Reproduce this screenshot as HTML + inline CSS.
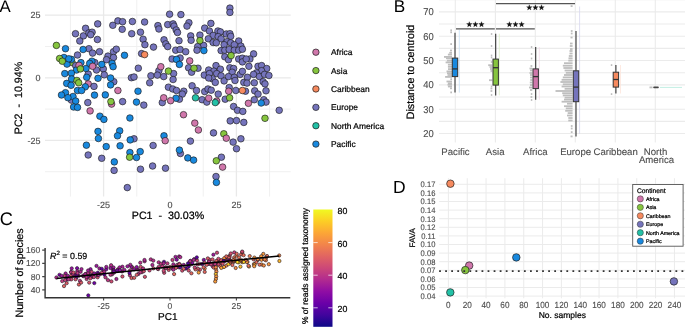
<!DOCTYPE html>
<html><head><meta charset="utf-8"><style>
html,body{margin:0;padding:0;background:#fff;width:685px;height:328px;overflow:hidden;}
svg{display:block;will-change:transform;}
text{font-family:"Liberation Sans",sans-serif;text-rendering:geometricPrecision;}
</style></head><body>
<svg width="685" height="328" viewBox="0 0 685 328">
<path d="M45 46.50H290.7M45 109.10H290.7M45 171.70H290.7M70.40 0V196.6M136.80 0V196.6M203.20 0V196.6M269.60 0V196.6" stroke="#f0f0f0" stroke-width="1" fill="none"/>
<path d="M45 15.20H290.7M45 77.80H290.7M45 140.40H290.7M103.60 0V196.6M170.00 0V196.6M236.40 0V196.6" stroke="#e9e9e9" stroke-width="1.3" fill="none"/>
<text x="40.60" y="18.40" font-size="9" text-anchor="end" fill="#4d4d4d"  stroke="#4d4d4d" stroke-width="0.12">25</text>
<text x="40.60" y="81.00" font-size="9" text-anchor="end" fill="#4d4d4d"  stroke="#4d4d4d" stroke-width="0.12">0</text>
<text x="40.60" y="143.60" font-size="9" text-anchor="end" fill="#4d4d4d"  stroke="#4d4d4d" stroke-width="0.12">-25</text>
<text x="103.60" y="207.90" font-size="9" text-anchor="middle" fill="#4d4d4d"  stroke="#4d4d4d" stroke-width="0.12">-25</text>
<text x="170.00" y="207.90" font-size="9" text-anchor="middle" fill="#4d4d4d"  stroke="#4d4d4d" stroke-width="0.12">0</text>
<text x="236.40" y="207.90" font-size="9" text-anchor="middle" fill="#4d4d4d"  stroke="#4d4d4d" stroke-width="0.12">25</text>
<text x="168.00" y="219.30" font-size="10.7" text-anchor="middle" fill="#000"  stroke="#000" stroke-width="0.22">PC1&#160;&#160;-&#160;&#160;30.03%</text>
<text transform="translate(22.3,98) rotate(-90)" font-size="10.7" text-anchor="middle" fill="#000" stroke="#000" stroke-width="0.22">PC2&#160;&#160;-&#160;&#160;10.94%</text>
<g stroke="#1a1a1a" stroke-width="0.65"><circle cx="97.7" cy="23.9" r="3.3" fill="#7574bc"/><circle cx="85.6" cy="28.3" r="3.3" fill="#7574bc"/><circle cx="75.5" cy="33.7" r="3.3" fill="#7574bc"/><circle cx="83.4" cy="35.9" r="3.3" fill="#7574bc"/><circle cx="79.8" cy="41.0" r="3.3" fill="#7574bc"/><circle cx="88.9" cy="32.9" r="3.3" fill="#7574bc"/><circle cx="92.1" cy="32.2" r="3.3" fill="#7574bc"/><circle cx="90.7" cy="34.7" r="3.3" fill="#7574bc"/><circle cx="97.4" cy="39.5" r="3.3" fill="#7574bc"/><circle cx="112.8" cy="25.3" r="3.3" fill="#7574bc"/><circle cx="117.9" cy="20.9" r="3.3" fill="#7574bc"/><circle cx="122.6" cy="21.7" r="3.3" fill="#7574bc"/><circle cx="132.4" cy="21.5" r="3.3" fill="#7574bc"/><circle cx="122.2" cy="29.3" r="3.3" fill="#7574bc"/><circle cx="131.7" cy="33.7" r="3.3" fill="#7574bc"/><circle cx="140.5" cy="32.2" r="3.3" fill="#7574bc"/><circle cx="144.6" cy="22.0" r="3.3" fill="#7574bc"/><circle cx="143.1" cy="39.2" r="3.3" fill="#7574bc"/><circle cx="144.9" cy="44.7" r="3.3" fill="#7574bc"/><circle cx="169.6" cy="14.2" r="3.3" fill="#7574bc"/><circle cx="180.9" cy="14.6" r="3.3" fill="#7574bc"/><circle cx="229.9" cy="8.1" r="3.3" fill="#7574bc"/><circle cx="229.9" cy="12.4" r="3.3" fill="#7574bc"/><circle cx="157.9" cy="25.6" r="3.3" fill="#7574bc"/><circle cx="158.9" cy="29.0" r="3.3" fill="#7574bc"/><circle cx="167.7" cy="24.6" r="3.3" fill="#7574bc"/><circle cx="173.1" cy="23.9" r="3.3" fill="#7574bc"/><circle cx="174.0" cy="26.1" r="3.3" fill="#7574bc"/><circle cx="176.2" cy="30.0" r="3.3" fill="#7574bc"/><circle cx="177.5" cy="32.5" r="3.3" fill="#7574bc"/><circle cx="188.9" cy="22.7" r="3.3" fill="#7574bc"/><circle cx="187.0" cy="26.1" r="3.3" fill="#7574bc"/><circle cx="210.9" cy="23.4" r="3.3" fill="#7574bc"/><circle cx="204.7" cy="28.1" r="3.3" fill="#7574bc"/><circle cx="209.4" cy="31.0" r="3.3" fill="#7574bc"/><circle cx="217.9" cy="31.0" r="3.3" fill="#7574bc"/><circle cx="220.4" cy="31.9" r="3.3" fill="#7574bc"/><circle cx="226.3" cy="34.0" r="3.3" fill="#7574bc"/><circle cx="229.9" cy="33.7" r="3.3" fill="#7574bc"/><circle cx="230.7" cy="36.3" r="3.3" fill="#7574bc"/><circle cx="213.1" cy="35.4" r="3.3" fill="#7574bc"/><circle cx="218.2" cy="36.6" r="3.3" fill="#7574bc"/><circle cx="221.1" cy="38.8" r="3.3" fill="#7574bc"/><circle cx="190.7" cy="35.9" r="3.3" fill="#7574bc"/><circle cx="191.1" cy="40.3" r="3.3" fill="#7574bc"/><circle cx="199.9" cy="35.1" r="3.3" fill="#7574bc"/><circle cx="208.3" cy="38.8" r="3.3" fill="#7574bc"/><circle cx="213.1" cy="42.5" r="3.3" fill="#7574bc"/><circle cx="216.3" cy="42.8" r="3.3" fill="#7574bc"/><circle cx="227.0" cy="41.7" r="3.3" fill="#7574bc"/><circle cx="230.7" cy="42.8" r="3.3" fill="#7574bc"/><circle cx="238.7" cy="41.0" r="3.3" fill="#7574bc"/><circle cx="164.0" cy="39.8" r="3.3" fill="#7574bc"/><circle cx="165.8" cy="43.9" r="3.3" fill="#7574bc"/><circle cx="179.0" cy="40.7" r="3.3" fill="#7574bc"/><circle cx="167.7" cy="46.6" r="3.3" fill="#7574bc"/><circle cx="153.5" cy="47.1" r="3.3" fill="#7574bc"/><circle cx="224.1" cy="44.7" r="3.3" fill="#7574bc"/><circle cx="234.3" cy="44.7" r="3.3" fill="#7574bc"/><circle cx="240.9" cy="46.1" r="3.3" fill="#7574bc"/><circle cx="203.6" cy="45.4" r="3.3" fill="#7574bc"/><circle cx="197.7" cy="46.6" r="3.3" fill="#7574bc"/><circle cx="88.9" cy="48.7" r="3.3" fill="#7574bc"/><circle cx="92.6" cy="53.1" r="3.3" fill="#7574bc"/><circle cx="99.5" cy="51.7" r="3.3" fill="#7574bc"/><circle cx="113.5" cy="51.7" r="3.3" fill="#7574bc"/><circle cx="116.3" cy="49.2" r="3.3" fill="#7574bc"/><circle cx="108.0" cy="56.1" r="3.3" fill="#7574bc"/><circle cx="113.5" cy="57.5" r="3.3" fill="#7574bc"/><circle cx="106.5" cy="59.7" r="3.3" fill="#7574bc"/><circle cx="141.6" cy="53.6" r="3.3" fill="#7574bc"/><circle cx="77.5" cy="55.0" r="3.3" fill="#7574bc"/><circle cx="72.1" cy="62.6" r="3.3" fill="#86c53e"/><circle cx="75.7" cy="65.6" r="3.3" fill="#7574bc"/><circle cx="94.8" cy="62.6" r="3.3" fill="#7574bc"/><circle cx="96.5" cy="70.0" r="3.3" fill="#7574bc"/><circle cx="103.3" cy="68.9" r="3.3" fill="#7574bc"/><circle cx="138.3" cy="68.2" r="3.3" fill="#7574bc"/><circle cx="88.2" cy="74.1" r="3.3" fill="#7574bc"/><circle cx="104.3" cy="74.8" r="3.3" fill="#7574bc"/><circle cx="113.8" cy="81.7" r="3.3" fill="#7574bc"/><circle cx="131.4" cy="77.7" r="3.3" fill="#7574bc"/><circle cx="134.0" cy="77.0" r="3.3" fill="#7574bc"/><circle cx="88.2" cy="83.9" r="3.3" fill="#d077ab"/><circle cx="94.0" cy="86.4" r="3.3" fill="#7574bc"/><circle cx="175.7" cy="50.2" r="3.3" fill="#7574bc"/><circle cx="180.1" cy="49.5" r="3.3" fill="#7574bc"/><circle cx="185.7" cy="51.7" r="3.3" fill="#7574bc"/><circle cx="197.0" cy="50.2" r="3.3" fill="#7574bc"/><circle cx="221.1" cy="50.6" r="3.3" fill="#7574bc"/><circle cx="224.8" cy="50.2" r="3.3" fill="#7574bc"/><circle cx="229.2" cy="49.5" r="3.3" fill="#7574bc"/><circle cx="234.3" cy="50.2" r="3.3" fill="#7574bc"/><circle cx="238.7" cy="50.2" r="3.3" fill="#7574bc"/><circle cx="242.4" cy="49.2" r="3.3" fill="#7574bc"/><circle cx="172.1" cy="59.0" r="3.3" fill="#7574bc"/><circle cx="180.1" cy="58.0" r="3.3" fill="#7574bc"/><circle cx="224.8" cy="56.8" r="3.3" fill="#7574bc"/><circle cx="228.5" cy="59.7" r="3.3" fill="#7574bc"/><circle cx="238.7" cy="59.0" r="3.3" fill="#7574bc"/><circle cx="242.4" cy="58.2" r="3.3" fill="#7574bc"/><circle cx="242.4" cy="61.9" r="3.3" fill="#7574bc"/><circle cx="158.9" cy="70.7" r="3.3" fill="#7574bc"/><circle cx="173.6" cy="73.6" r="3.3" fill="#7574bc"/><circle cx="150.9" cy="75.8" r="3.3" fill="#7574bc"/><circle cx="157.4" cy="75.1" r="3.3" fill="#7574bc"/><circle cx="163.7" cy="76.6" r="3.3" fill="#7574bc"/><circle cx="173.1" cy="79.5" r="3.3" fill="#7574bc"/><circle cx="149.7" cy="82.8" r="3.3" fill="#7574bc"/><circle cx="188.6" cy="67.8" r="3.3" fill="#7574bc"/><circle cx="198.0" cy="68.2" r="3.3" fill="#7574bc"/><circle cx="191.6" cy="72.2" r="3.3" fill="#7574bc"/><circle cx="216.0" cy="65.6" r="3.3" fill="#7574bc"/><circle cx="208.7" cy="70.0" r="3.3" fill="#7574bc"/><circle cx="213.8" cy="71.1" r="3.3" fill="#7574bc"/><circle cx="220.4" cy="69.2" r="3.3" fill="#7574bc"/><circle cx="204.3" cy="75.1" r="3.3" fill="#7574bc"/><circle cx="209.4" cy="73.6" r="3.3" fill="#7574bc"/><circle cx="216.7" cy="73.6" r="3.3" fill="#7574bc"/><circle cx="221.1" cy="75.8" r="3.3" fill="#7574bc"/><circle cx="212.3" cy="78.7" r="3.3" fill="#7574bc"/><circle cx="208.7" cy="78.0" r="3.3" fill="#7574bc"/><circle cx="224.1" cy="80.9" r="3.3" fill="#7574bc"/><circle cx="215.3" cy="82.4" r="3.3" fill="#7574bc"/><circle cx="229.9" cy="67.8" r="3.3" fill="#7574bc"/><circle cx="233.6" cy="68.5" r="3.3" fill="#7574bc"/><circle cx="232.1" cy="72.2" r="3.3" fill="#7574bc"/><circle cx="228.5" cy="76.6" r="3.3" fill="#7574bc"/><circle cx="234.3" cy="77.3" r="3.3" fill="#7574bc"/><circle cx="235.0" cy="80.5" r="3.3" fill="#7574bc"/><circle cx="240.2" cy="74.4" r="3.3" fill="#7574bc"/><circle cx="242.4" cy="71.4" r="3.3" fill="#7574bc"/><circle cx="243.8" cy="82.4" r="3.3" fill="#7574bc"/><circle cx="168.4" cy="87.2" r="3.3" fill="#7574bc"/><circle cx="172.8" cy="89.0" r="3.3" fill="#7574bc"/><circle cx="176.5" cy="90.5" r="3.3" fill="#7574bc"/><circle cx="183.8" cy="91.2" r="3.3" fill="#7574bc"/><circle cx="182.3" cy="94.1" r="3.3" fill="#7574bc"/><circle cx="192.1" cy="85.8" r="3.3" fill="#7574bc"/><circle cx="196.5" cy="90.5" r="3.3" fill="#7574bc"/><circle cx="204.7" cy="91.6" r="3.3" fill="#7574bc"/><circle cx="208.0" cy="89.0" r="3.3" fill="#7574bc"/><circle cx="211.2" cy="90.2" r="3.3" fill="#7574bc"/><circle cx="218.2" cy="94.1" r="3.3" fill="#7574bc"/><circle cx="229.2" cy="87.5" r="3.3" fill="#7574bc"/><circle cx="235.8" cy="90.5" r="3.3" fill="#7574bc"/><circle cx="253.6" cy="53.9" r="3.3" fill="#7574bc"/><circle cx="249.9" cy="59.0" r="3.3" fill="#7574bc"/><circle cx="246.2" cy="59.0" r="3.3" fill="#7574bc"/><circle cx="248.9" cy="66.3" r="3.3" fill="#7574bc"/><circle cx="258.0" cy="66.3" r="3.3" fill="#7574bc"/><circle cx="261.6" cy="65.6" r="3.3" fill="#7574bc"/><circle cx="266.7" cy="68.5" r="3.3" fill="#7574bc"/><circle cx="261.6" cy="70.7" r="3.3" fill="#7574bc"/><circle cx="256.5" cy="72.9" r="3.3" fill="#7574bc"/><circle cx="253.6" cy="74.4" r="3.3" fill="#7574bc"/><circle cx="259.4" cy="76.6" r="3.3" fill="#7574bc"/><circle cx="264.5" cy="74.4" r="3.3" fill="#7574bc"/><circle cx="268.9" cy="75.5" r="3.3" fill="#7574bc"/><circle cx="263.1" cy="81.7" r="3.3" fill="#7574bc"/><circle cx="265.0" cy="83.9" r="3.3" fill="#7574bc"/><circle cx="254.3" cy="82.8" r="3.3" fill="#7574bc"/><circle cx="247.4" cy="77.3" r="3.3" fill="#7574bc"/><circle cx="247.0" cy="83.1" r="3.3" fill="#7574bc"/><circle cx="266.0" cy="90.8" r="3.3" fill="#7574bc"/><circle cx="254.7" cy="90.8" r="3.3" fill="#7574bc"/><circle cx="258.0" cy="94.1" r="3.3" fill="#7574bc"/><circle cx="245.5" cy="91.2" r="3.3" fill="#7574bc"/><circle cx="71.4" cy="100.1" r="3.3" fill="#7574bc"/><circle cx="87.8" cy="102.6" r="3.3" fill="#7574bc"/><circle cx="122.6" cy="101.6" r="3.3" fill="#7574bc"/><circle cx="143.8" cy="105.1" r="3.3" fill="#7574bc"/><circle cx="134.0" cy="138.8" r="3.3" fill="#7574bc"/><circle cx="162.3" cy="102.6" r="3.3" fill="#7574bc"/><circle cx="179.4" cy="99.2" r="3.3" fill="#7574bc"/><circle cx="202.1" cy="99.7" r="3.3" fill="#7574bc"/><circle cx="206.8" cy="102.1" r="3.3" fill="#7574bc"/><circle cx="225.2" cy="99.2" r="3.3" fill="#7574bc"/><circle cx="233.6" cy="106.5" r="3.3" fill="#7574bc"/><circle cx="237.5" cy="110.3" r="3.3" fill="#7574bc"/><circle cx="242.8" cy="111.4" r="3.3" fill="#7574bc"/><circle cx="230.2" cy="120.9" r="3.3" fill="#7574bc"/><circle cx="236.5" cy="120.6" r="3.3" fill="#7574bc"/><circle cx="243.8" cy="122.4" r="3.3" fill="#7574bc"/><circle cx="213.5" cy="132.9" r="3.3" fill="#7574bc"/><circle cx="240.9" cy="138.8" r="3.3" fill="#7574bc"/><circle cx="190.4" cy="141.1" r="3.3" fill="#7574bc"/><circle cx="233.1" cy="142.1" r="3.3" fill="#7574bc"/><circle cx="254.3" cy="99.7" r="3.3" fill="#7574bc"/><circle cx="263.8" cy="99.7" r="3.3" fill="#7574bc"/><circle cx="266.0" cy="102.1" r="3.3" fill="#7574bc"/><circle cx="279.2" cy="110.3" r="3.3" fill="#7574bc"/><circle cx="88.2" cy="155.0" r="3.3" fill="#7574bc"/><circle cx="101.7" cy="158.3" r="3.3" fill="#7574bc"/><circle cx="114.1" cy="170.4" r="3.3" fill="#7574bc"/><circle cx="140.5" cy="169.2" r="3.3" fill="#7574bc"/><circle cx="127.3" cy="187.6" r="3.3" fill="#7574bc"/><circle cx="153.1" cy="145.5" r="3.3" fill="#7574bc"/><circle cx="236.5" cy="148.7" r="3.3" fill="#7574bc"/><circle cx="180.4" cy="153.5" r="3.3" fill="#7574bc"/><circle cx="152.6" cy="166.0" r="3.3" fill="#7574bc"/><circle cx="165.5" cy="168.2" r="3.3" fill="#7574bc"/><circle cx="221.4" cy="157.2" r="3.3" fill="#7574bc"/><circle cx="216.0" cy="176.5" r="3.3" fill="#7574bc"/><circle cx="65.5" cy="48.7" r="3.3" fill="#1889df"/><circle cx="83.1" cy="49.5" r="3.3" fill="#1889df"/><circle cx="124.5" cy="55.3" r="3.3" fill="#1889df"/><circle cx="64.0" cy="57.5" r="3.3" fill="#1889df"/><circle cx="67.0" cy="64.1" r="3.3" fill="#1889df"/><circle cx="71.4" cy="59.4" r="3.3" fill="#1889df"/><circle cx="80.9" cy="62.6" r="3.3" fill="#1889df"/><circle cx="86.0" cy="68.5" r="3.3" fill="#1889df"/><circle cx="76.5" cy="70.0" r="3.3" fill="#1889df"/><circle cx="91.9" cy="61.2" r="3.3" fill="#1889df"/><circle cx="89.7" cy="63.4" r="3.3" fill="#1889df"/><circle cx="101.8" cy="64.4" r="3.3" fill="#1889df"/><circle cx="112.1" cy="63.4" r="3.3" fill="#1889df"/><circle cx="113.1" cy="66.7" r="3.3" fill="#1889df"/><circle cx="64.8" cy="73.6" r="3.3" fill="#1889df"/><circle cx="71.4" cy="73.2" r="3.3" fill="#1889df"/><circle cx="86.7" cy="77.3" r="3.3" fill="#1889df"/><circle cx="98.0" cy="78.3" r="3.3" fill="#1889df"/><circle cx="110.6" cy="78.0" r="3.3" fill="#1889df"/><circle cx="110.6" cy="84.9" r="3.3" fill="#1889df"/><circle cx="71.6" cy="79.0" r="3.3" fill="#1889df"/><circle cx="66.7" cy="83.4" r="3.3" fill="#1889df"/><circle cx="71.1" cy="85.3" r="3.3" fill="#1889df"/><circle cx="85.3" cy="86.8" r="3.3" fill="#1889df"/><circle cx="77.5" cy="90.5" r="3.3" fill="#1889df"/><circle cx="81.6" cy="90.5" r="3.3" fill="#1889df"/><circle cx="138.0" cy="91.2" r="3.3" fill="#1889df"/><circle cx="65.5" cy="92.7" r="3.3" fill="#1889df"/><circle cx="61.5" cy="95.0" r="3.3" fill="#1889df"/><circle cx="73.0" cy="96.5" r="3.3" fill="#1889df"/><circle cx="94.5" cy="95.1" r="3.3" fill="#1889df"/><circle cx="105.3" cy="94.9" r="3.3" fill="#1889df"/><circle cx="68.8" cy="58.8" r="3.3" fill="#1889df"/><circle cx="203.9" cy="50.6" r="3.3" fill="#1889df"/><circle cx="176.5" cy="59.4" r="3.3" fill="#1889df"/><circle cx="179.4" cy="64.4" r="3.3" fill="#1889df"/><circle cx="75.7" cy="101.1" r="3.3" fill="#1889df"/><circle cx="73.6" cy="107.0" r="3.3" fill="#1889df"/><circle cx="77.5" cy="107.4" r="3.3" fill="#1889df"/><circle cx="136.5" cy="102.1" r="3.3" fill="#1889df"/><circle cx="99.9" cy="116.2" r="3.3" fill="#1889df"/><circle cx="103.9" cy="119.4" r="3.3" fill="#1889df"/><circle cx="129.9" cy="118.0" r="3.3" fill="#1889df"/><circle cx="98.0" cy="131.4" r="3.3" fill="#1889df"/><circle cx="98.4" cy="138.5" r="3.3" fill="#1889df"/><circle cx="119.7" cy="130.8" r="3.3" fill="#1889df"/><circle cx="117.5" cy="135.8" r="3.3" fill="#1889df"/><circle cx="130.2" cy="139.9" r="3.3" fill="#1889df"/><circle cx="176.0" cy="98.2" r="3.3" fill="#1889df"/><circle cx="164.0" cy="135.8" r="3.3" fill="#1889df"/><circle cx="261.2" cy="103.0" r="3.3" fill="#1889df"/><circle cx="86.4" cy="145.2" r="3.3" fill="#1889df"/><circle cx="106.2" cy="146.6" r="3.3" fill="#1889df"/><circle cx="120.1" cy="145.8" r="3.3" fill="#1889df"/><circle cx="129.9" cy="152.5" r="3.3" fill="#1889df"/><circle cx="140.2" cy="151.6" r="3.3" fill="#1889df"/><circle cx="136.5" cy="157.5" r="3.3" fill="#1889df"/><circle cx="114.3" cy="161.9" r="3.3" fill="#1889df"/><circle cx="179.4" cy="150.1" r="3.3" fill="#1889df"/><circle cx="187.8" cy="157.9" r="3.3" fill="#1889df"/><circle cx="193.6" cy="160.1" r="3.3" fill="#1889df"/><circle cx="216.4" cy="182.4" r="3.3" fill="#1889df"/><circle cx="67.9" cy="97.7" r="3.3" fill="#1889df"/><circle cx="56.4" cy="45.4" r="3.3" fill="#86c53e"/><circle cx="199.9" cy="40.6" r="3.3" fill="#86c53e"/><circle cx="59.6" cy="58.5" r="3.3" fill="#86c53e"/><circle cx="62.3" cy="61.2" r="3.3" fill="#86c53e"/><circle cx="79.0" cy="65.3" r="3.3" fill="#d077ab"/><circle cx="80.4" cy="68.9" r="3.3" fill="#86c53e"/><circle cx="92.6" cy="66.3" r="3.3" fill="#d077ab"/><circle cx="76.9" cy="80.5" r="3.3" fill="#86c53e"/><circle cx="78.7" cy="82.8" r="3.3" fill="#86c53e"/><circle cx="117.9" cy="90.5" r="3.3" fill="#d077ab"/><circle cx="189.7" cy="60.9" r="3.3" fill="#d077ab"/><circle cx="231.1" cy="55.6" r="3.3" fill="#86c53e"/><circle cx="160.8" cy="66.7" r="3.3" fill="#d077ab"/><circle cx="168.4" cy="71.1" r="3.3" fill="#86c53e"/><circle cx="194.0" cy="68.2" r="3.3" fill="#86c53e"/><circle cx="228.7" cy="91.2" r="3.3" fill="#d077ab"/><circle cx="111.6" cy="104.1" r="3.3" fill="#d077ab"/><circle cx="110.9" cy="101.6" r="3.3" fill="#86c53e"/><circle cx="90.1" cy="110.9" r="3.3" fill="#d077ab"/><circle cx="163.7" cy="97.8" r="3.3" fill="#d077ab"/><circle cx="170.6" cy="100.7" r="3.3" fill="#d077ab"/><circle cx="208.7" cy="98.2" r="3.3" fill="#d077ab"/><circle cx="216.7" cy="101.1" r="3.3" fill="#d077ab"/><circle cx="229.6" cy="97.8" r="3.3" fill="#86c53e"/><circle cx="183.5" cy="114.7" r="3.3" fill="#d077ab"/><circle cx="194.8" cy="123.1" r="3.3" fill="#d077ab"/><circle cx="198.4" cy="130.0" r="3.3" fill="#d077ab"/><circle cx="223.8" cy="133.8" r="3.3" fill="#86c53e"/><circle cx="226.3" cy="138.2" r="3.3" fill="#d077ab"/><circle cx="165.2" cy="140.7" r="3.3" fill="#d077ab"/><circle cx="248.4" cy="103.3" r="3.3" fill="#d077ab"/><circle cx="265.0" cy="118.3" r="3.3" fill="#86c53e"/><circle cx="129.6" cy="157.2" r="3.3" fill="#86c53e"/><circle cx="216.3" cy="160.8" r="3.3" fill="#86c53e"/><circle cx="222.6" cy="167.1" r="3.3" fill="#d077ab"/><circle cx="144.6" cy="54.6" r="3.3" fill="#f68a5f"/><circle cx="242.4" cy="90.5" r="3.3" fill="#f68a5f"/><circle cx="195.5" cy="97.8" r="3.3" fill="#22c1a6"/><circle cx="215.3" cy="102.6" r="3.3" fill="#22c1a6"/></g>
<circle cx="315.9" cy="52.20" r="3.2" fill="#d077ab" stroke="#1a1a1a" stroke-width="0.7"/>
<text x="331.00" y="55.20" font-size="8.4" text-anchor="start" fill="#000"  stroke="#000" stroke-width="0.22">Africa</text>
<circle cx="315.9" cy="70.58" r="3.2" fill="#86c53e" stroke="#1a1a1a" stroke-width="0.7"/>
<text x="331.00" y="73.58" font-size="8.4" text-anchor="start" fill="#000"  stroke="#000" stroke-width="0.22">Asia</text>
<circle cx="315.9" cy="88.96" r="3.2" fill="#f68a5f" stroke="#1a1a1a" stroke-width="0.7"/>
<text x="331.00" y="91.96" font-size="8.4" text-anchor="start" fill="#000"  stroke="#000" stroke-width="0.22">Caribbean</text>
<circle cx="315.9" cy="107.34" r="3.2" fill="#7574bc" stroke="#1a1a1a" stroke-width="0.7"/>
<text x="331.00" y="110.34" font-size="8.4" text-anchor="start" fill="#000"  stroke="#000" stroke-width="0.22">Europe</text>
<circle cx="315.9" cy="125.72" r="3.2" fill="#22c1a6" stroke="#1a1a1a" stroke-width="0.7"/>
<text x="331.00" y="128.72" font-size="8.4" text-anchor="start" fill="#000"  stroke="#000" stroke-width="0.22">North America</text>
<circle cx="315.9" cy="144.10" r="3.2" fill="#1889df" stroke="#1a1a1a" stroke-width="0.7"/>
<text x="331.00" y="147.10" font-size="8.4" text-anchor="start" fill="#000"  stroke="#000" stroke-width="0.22">Pacific</text>
<text x="-0.40" y="11.70" font-size="16.8" text-anchor="start" fill="#000" >A</text>
<path d="M439 133.50H685M439 121.34H685M439 109.18H685M439 97.02H685M439 84.86H685M439 72.70H685M439 60.54H685M439 48.38H685M439 36.22H685M439 24.06H685M439 11.90H685M439 -0.26H685M455.3 0V142.5M495.4 0V142.5M535.3 0V142.5M575.3 0V142.5M615.3 0V142.5M655.3 0V142.5" stroke="#ebebeb" stroke-width="1.1" fill="none"/>
<text transform="translate(433.80,137.00) scale(1,1.06)" font-size="9.4" text-anchor="end" fill="#4d4d4d"  stroke="#4d4d4d" stroke-width="0.12">20</text>
<text transform="translate(433.80,112.68) scale(1,1.06)" font-size="9.4" text-anchor="end" fill="#4d4d4d"  stroke="#4d4d4d" stroke-width="0.12">30</text>
<text transform="translate(433.80,88.36) scale(1,1.06)" font-size="9.4" text-anchor="end" fill="#4d4d4d"  stroke="#4d4d4d" stroke-width="0.12">40</text>
<text transform="translate(433.80,64.04) scale(1,1.06)" font-size="9.4" text-anchor="end" fill="#4d4d4d"  stroke="#4d4d4d" stroke-width="0.12">50</text>
<text transform="translate(433.80,39.72) scale(1,1.06)" font-size="9.4" text-anchor="end" fill="#4d4d4d"  stroke="#4d4d4d" stroke-width="0.12">60</text>
<text transform="translate(433.80,15.40) scale(1,1.06)" font-size="9.4" text-anchor="end" fill="#4d4d4d"  stroke="#4d4d4d" stroke-width="0.12">70</text>
<text x="455.50" y="154.80" font-size="9.6" text-anchor="middle" fill="#4d4d4d"  stroke="#4d4d4d" stroke-width="0.12">Pacific</text>
<text x="495.20" y="154.80" font-size="9.6" text-anchor="middle" fill="#4d4d4d"  stroke="#4d4d4d" stroke-width="0.12">Asia</text>
<text x="535.30" y="154.80" font-size="9.6" text-anchor="middle" fill="#4d4d4d"  stroke="#4d4d4d" stroke-width="0.12">Africa</text>
<text x="575.60" y="154.80" font-size="9.6" text-anchor="middle" fill="#4d4d4d"  stroke="#4d4d4d" stroke-width="0.12">Europe</text>
<text x="615.60" y="154.80" font-size="9.6" text-anchor="middle" fill="#4d4d4d"  stroke="#4d4d4d" stroke-width="0.12">Caribbean</text>
<text x="655.50" y="154.80" font-size="9.6" text-anchor="middle" fill="#4d4d4d"  stroke="#4d4d4d" stroke-width="0.12">North</text>
<text x="656.50" y="162.60" font-size="9.6" text-anchor="middle" fill="#4d4d4d"  stroke="#4d4d4d" stroke-width="0.12">America</text>
<text transform="translate(414.3,72) rotate(-90)" font-size="10.7" text-anchor="middle" fill="#000" stroke="#000" stroke-width="0.22">Distance to centroid</text>
<g fill="#bebebe"><rect x="450.3" y="43.2" width="1.7" height="1.8"/><rect x="450.0" y="49.6" width="2.0" height="1.8"/><rect x="449.3" y="51.9" width="2.7" height="1.8"/><rect x="447.9" y="53.7" width="4.1" height="1.8"/><rect x="444.0" y="56.0" width="8.0" height="1.8"/><rect x="446.0" y="57.4" width="6.0" height="1.8"/><rect x="447.0" y="59.7" width="5.0" height="1.8"/><rect x="445.6" y="61.5" width="6.4" height="1.8"/><rect x="447.9" y="63.8" width="4.1" height="1.8"/><rect x="447.9" y="65.9" width="4.1" height="1.8"/><rect x="448.0" y="68.2" width="4.0" height="1.8"/><rect x="446.5" y="70.5" width="5.5" height="1.8"/><rect x="447.0" y="72.3" width="5.0" height="1.8"/><rect x="447.5" y="74.1" width="4.5" height="1.8"/><rect x="445.1" y="76.0" width="6.9" height="1.8"/><rect x="450.3" y="78.3" width="1.7" height="1.8"/><rect x="446.5" y="80.6" width="5.5" height="1.8"/><rect x="447.9" y="82.4" width="4.1" height="1.8"/><rect x="447.5" y="83.8" width="4.5" height="1.8"/><rect x="447.9" y="85.6" width="4.1" height="1.8"/><rect x="450.0" y="87.4" width="2.0" height="1.8"/><rect x="450.3" y="91.5" width="1.7" height="1.8"/><rect x="450.3" y="29.4" width="1.7" height="1.8"/><rect x="450.3" y="31.4" width="1.7" height="1.8"/><rect x="490.8" y="33.1" width="1.5" height="1.8"/><rect x="490.8" y="45.1" width="1.5" height="1.8"/><rect x="490.8" y="54.6" width="1.5" height="1.8"/><rect x="490.8" y="56.6" width="1.5" height="1.8"/><rect x="490.8" y="61.1" width="1.5" height="1.8"/><rect x="488.2" y="64.3" width="4.1" height="1.8"/><rect x="489.5" y="66.1" width="2.8" height="1.8"/><rect x="490.0" y="68.1" width="2.3" height="1.8"/><rect x="490.5" y="70.1" width="1.8" height="1.8"/><rect x="489.0" y="79.3" width="3.3" height="1.8"/><rect x="490.8" y="85.6" width="1.5" height="1.8"/><rect x="490.5" y="87.6" width="1.8" height="1.8"/><rect x="490.5" y="90.1" width="1.8" height="1.8"/><rect x="490.8" y="94.1" width="1.5" height="1.8"/><rect x="530.8" y="46.1" width="1.5" height="1.8"/><rect x="530.8" y="53.1" width="1.5" height="1.8"/><rect x="530.8" y="57.6" width="1.5" height="1.8"/><rect x="530.5" y="65.1" width="1.8" height="1.8"/><rect x="529.5" y="67.6" width="2.8" height="1.8"/><rect x="530.0" y="69.6" width="2.3" height="1.8"/><rect x="529.5" y="72.1" width="2.8" height="1.8"/><rect x="530.0" y="74.1" width="2.3" height="1.8"/><rect x="530.0" y="76.6" width="2.3" height="1.8"/><rect x="530.2" y="79.1" width="2.1" height="1.8"/><rect x="529.8" y="81.6" width="2.5" height="1.8"/><rect x="530.0" y="84.1" width="2.3" height="1.8"/><rect x="529.0" y="86.6" width="3.3" height="1.8"/><rect x="530.0" y="89.1" width="2.3" height="1.8"/><rect x="530.8" y="93.1" width="1.5" height="1.8"/><rect x="530.5" y="96.1" width="1.8" height="1.8"/><rect x="530.8" y="99.1" width="1.5" height="1.8"/><rect x="570.6" y="5.2" width="2.0" height="1.8"/><rect x="570.8" y="30.1" width="1.8" height="1.8"/><rect x="570.8" y="32.6" width="1.8" height="1.8"/><rect x="570.5" y="36.6" width="2.1" height="1.8"/><rect x="570.0" y="42.6" width="2.6" height="1.8"/><rect x="569.8" y="45.1" width="2.8" height="1.8"/><rect x="570.0" y="48.1" width="2.6" height="1.8"/><rect x="569.5" y="50.1" width="3.1" height="1.8"/><rect x="569.5" y="52.6" width="3.1" height="1.8"/><rect x="568.8" y="55.1" width="3.8" height="1.8"/><rect x="568.5" y="57.4" width="4.1" height="1.8"/><rect x="568.3" y="59.7" width="4.3" height="1.8"/><rect x="564.0" y="62.3" width="8.6" height="1.8"/><rect x="562.8" y="64.8" width="9.8" height="1.8"/><rect x="563.4" y="67.1" width="9.2" height="1.8"/><rect x="564.6" y="69.6" width="8.0" height="1.8"/><rect x="565.8" y="71.9" width="6.8" height="1.8"/><rect x="564.0" y="74.1" width="8.6" height="1.8"/><rect x="562.8" y="76.5" width="9.8" height="1.8"/><rect x="561.6" y="78.9" width="11.0" height="1.8"/><rect x="560.4" y="81.1" width="12.2" height="1.8"/><rect x="562.8" y="83.4" width="9.8" height="1.8"/><rect x="561.6" y="85.6" width="11.0" height="1.8"/><rect x="564.6" y="87.9" width="8.0" height="1.8"/><rect x="555.5" y="90.1" width="17.1" height="1.8"/><rect x="562.2" y="92.3" width="10.4" height="1.8"/><rect x="562.8" y="94.5" width="9.8" height="1.8"/><rect x="564.6" y="96.7" width="8.0" height="1.8"/><rect x="564.0" y="98.7" width="8.6" height="1.8"/><rect x="561.6" y="100.8" width="11.0" height="1.8"/><rect x="567.0" y="102.8" width="5.6" height="1.8"/><rect x="564.0" y="105.3" width="8.6" height="1.8"/><rect x="565.8" y="107.5" width="6.8" height="1.8"/><rect x="565.2" y="109.9" width="7.4" height="1.8"/><rect x="567.7" y="112.2" width="4.9" height="1.8"/><rect x="567.0" y="114.6" width="5.6" height="1.8"/><rect x="568.3" y="117.1" width="4.3" height="1.8"/><rect x="568.3" y="119.6" width="4.3" height="1.8"/><rect x="570.8" y="125.1" width="1.8" height="1.8"/><rect x="570.8" y="127.6" width="1.8" height="1.8"/><rect x="570.8" y="131.2" width="1.8" height="1.8"/><rect x="570.5" y="135.5" width="2.1" height="1.8"/><rect x="610.8" y="64.2" width="1.5" height="1.8"/><rect x="610.8" y="93.2" width="1.5" height="1.8"/><rect x="649.5" y="86.5" width="3.0" height="1.8"/></g>
<path d="M459.3 30V92.6" stroke="#c6e0f5" stroke-width="0.8"/>
<path d="M499.3 33.7V95.4" stroke="#dcefc8" stroke-width="0.8"/>
<path d="M539.3 47V99.7" stroke="#f3dbea" stroke-width="0.8"/>
<path d="M579.6 6.5V133.8" stroke="#d6d5ee" stroke-width="0.8"/>
<path d="M620.5 65V93.5" stroke="#fde4da" stroke-width="0.8"/>
<path d="M660 87.4H682" stroke="#c2efe4" stroke-width="1"/>
<path d="M455.0 32.8V58.1M455.0 76.6V92.6" stroke="#333333" stroke-width="1.1"/>
<rect x="452.3" y="58.1" width="5.4" height="18.499999999999993" fill="#1889df" stroke="#333333" stroke-width="1"/>
<path d="M452.3 68.9H457.7" stroke="#333333" stroke-width="1.3"/>
<path d="M495.7 33.7V59.1M495.7 85.1V95.4" stroke="#333333" stroke-width="1.1"/>
<rect x="493.0" y="59.1" width="5.4" height="25.999999999999993" fill="#86c53e" stroke="#333333" stroke-width="1"/>
<path d="M493.0 67.7H498.4" stroke="#333333" stroke-width="1.3"/>
<path d="M535.7 47V68.9M535.7 88.6V99.7" stroke="#333333" stroke-width="1.1"/>
<rect x="533.0" y="68.9" width="5.4" height="19.69999999999999" fill="#d077ab" stroke="#333333" stroke-width="1"/>
<path d="M533.0 76.6H538.4000000000001" stroke="#333333" stroke-width="1.3"/>
<path d="M576.0 31V70.8M576.0 101.7V136.5" stroke="#333333" stroke-width="1.1"/>
<rect x="573.3" y="70.8" width="5.4" height="30.900000000000006" fill="#7574bc" stroke="#333333" stroke-width="1"/>
<path d="M573.3 87.1H578.7" stroke="#333333" stroke-width="1.3"/>
<path d="M615.9 65.1V72.2M615.9 87.1V93.5" stroke="#333333" stroke-width="1.1"/>
<rect x="613.1999999999999" y="72.2" width="5.4" height="14.899999999999991" fill="#f68a5f" stroke="#333333" stroke-width="1"/>
<path d="M613.1999999999999 79.5H618.6" stroke="#333333" stroke-width="1.3"/>
<rect x="653.2" y="86.6" width="5.6" height="1.7" rx="0.8" fill="#444"/>
<path d="M456 28.8H494.8M496 28.8H534.8M496 3.6H575" stroke="#555" stroke-width="1.2"/>
<g fill="#111" stroke="#111" stroke-width="0.3" stroke-linejoin="round"><polygon points="469.30,21.65 470.01,23.53 472.01,23.62 470.44,24.87 470.98,26.81 469.30,25.70 467.62,26.81 468.16,24.87 466.59,23.62 468.59,23.53"/><polygon points="475.40,21.65 476.11,23.53 478.11,23.62 476.54,24.87 477.08,26.81 475.40,25.70 473.72,26.81 474.26,24.87 472.69,23.62 474.69,23.53"/><polygon points="481.50,21.65 482.21,23.53 484.21,23.62 482.64,24.87 483.18,26.81 481.50,25.70 479.82,26.81 480.36,24.87 478.79,23.62 480.79,23.53"/><polygon points="509.40,21.65 510.11,23.53 512.11,23.62 510.54,24.87 511.08,26.81 509.40,25.70 507.72,26.81 508.26,24.87 506.69,23.62 508.69,23.53"/><polygon points="515.50,21.65 516.21,23.53 518.21,23.62 516.64,24.87 517.18,26.81 515.50,25.70 513.82,26.81 514.36,24.87 512.79,23.62 514.79,23.53"/><polygon points="521.60,21.65 522.31,23.53 524.31,23.62 522.74,24.87 523.28,26.81 521.60,25.70 519.92,26.81 520.46,24.87 518.89,23.62 520.89,23.53"/><polygon points="529.30,4.75 530.01,6.63 532.01,6.72 530.44,7.97 530.98,9.91 529.30,8.80 527.62,9.91 528.16,7.97 526.59,6.72 528.59,6.63"/><polygon points="535.40,4.75 536.11,6.63 538.11,6.72 536.54,7.97 537.08,9.91 535.40,8.80 533.72,9.91 534.26,7.97 532.69,6.72 534.69,6.63"/><polygon points="541.50,4.75 542.21,6.63 544.21,6.72 542.64,7.97 543.18,9.91 541.50,8.80 539.82,9.91 540.36,7.97 538.79,6.72 540.79,6.63"/></g>
<text x="393.80" y="11.70" font-size="17.2" text-anchor="start" fill="#000" >B</text>
<path d="M45.1 248V297.7H290.3" stroke="#333" stroke-width="1.4" fill="none"/>
<text x="40.40" y="293.00" font-size="8.6" text-anchor="end" fill="#4d4d4d"  stroke="#4d4d4d" stroke-width="0.12">40</text>
<text x="40.40" y="279.73" font-size="8.6" text-anchor="end" fill="#4d4d4d"  stroke="#4d4d4d" stroke-width="0.12">80</text>
<text x="40.40" y="266.46" font-size="8.6" text-anchor="end" fill="#4d4d4d"  stroke="#4d4d4d" stroke-width="0.12">120</text>
<text x="40.40" y="253.20" font-size="8.6" text-anchor="end" fill="#4d4d4d"  stroke="#4d4d4d" stroke-width="0.12">160</text>
<text x="103.60" y="308.60" font-size="8.6" text-anchor="middle" fill="#4d4d4d"  stroke="#4d4d4d" stroke-width="0.12">-25</text>
<text x="170.00" y="308.60" font-size="8.6" text-anchor="middle" fill="#4d4d4d"  stroke="#4d4d4d" stroke-width="0.12">0</text>
<text x="236.40" y="308.60" font-size="8.6" text-anchor="middle" fill="#4d4d4d"  stroke="#4d4d4d" stroke-width="0.12">25</text>
<path d="M42.2 289.90H45M42.2 276.63H45M42.2 263.36H45M42.2 250.10H45M103.6 298V300.6M170 298V300.6M236.4 298V300.6" stroke="#444" stroke-width="1.1"/>
<text x="167.80" y="320.10" font-size="10" text-anchor="middle" fill="#000"  stroke="#000" stroke-width="0.22">PC1</text>
<text transform="translate(23,273) rotate(-90)" font-size="10.7" text-anchor="middle" fill="#000" stroke="#000" stroke-width="0.22">Number of species</text>
<g stroke="#221522" stroke-width="0.6"><circle cx="97.6" cy="277.3" r="1.65" fill="#d6556e"/><circle cx="85.6" cy="274.0" r="1.65" fill="#b93289"/><circle cx="75.2" cy="274.6" r="1.65" fill="#b52e8c"/><circle cx="83.3" cy="276.2" r="1.65" fill="#b02991"/><circle cx="79.9" cy="280.8" r="1.65" fill="#bd3785"/><circle cx="89.2" cy="282.6" r="1.65" fill="#d7566d"/><circle cx="91.9" cy="277.0" r="1.65" fill="#ca457a"/><circle cx="90.5" cy="269.2" r="1.65" fill="#9210a2"/><circle cx="97.4" cy="275.1" r="1.65" fill="#bd3785"/><circle cx="112.9" cy="268.9" r="1.65" fill="#b42e8d"/><circle cx="117.9" cy="269.4" r="1.65" fill="#d14d73"/><circle cx="122.4" cy="266.7" r="1.65" fill="#aa2494"/><circle cx="132.5" cy="267.4" r="1.65" fill="#e87258"/><circle cx="122.1" cy="271.4" r="1.65" fill="#b93289"/><circle cx="131.4" cy="266.8" r="1.65" fill="#9613a0"/><circle cx="140.7" cy="266.9" r="1.65" fill="#d6556d"/><circle cx="144.6" cy="261.3" r="1.65" fill="#b7318a"/><circle cx="143.1" cy="268.4" r="1.65" fill="#bb3587"/><circle cx="144.9" cy="276.8" r="1.65" fill="#d6556d"/><circle cx="56.4" cy="277.5" r="1.65" fill="#b12a90"/><circle cx="169.4" cy="267.5" r="1.65" fill="#cc4778"/><circle cx="180.6" cy="265.4" r="1.65" fill="#dc5d67"/><circle cx="229.7" cy="255.6" r="1.65" fill="#e3685f"/><circle cx="230.1" cy="262.5" r="1.65" fill="#fad724"/><circle cx="158.2" cy="269.1" r="1.65" fill="#d14e73"/><circle cx="158.7" cy="262.3" r="1.65" fill="#b7308b"/><circle cx="167.4" cy="263.4" r="1.65" fill="#c33e80"/><circle cx="173.4" cy="264.3" r="1.65" fill="#a92395"/><circle cx="174.1" cy="274.1" r="1.65" fill="#e56c5d"/><circle cx="176.4" cy="267.0" r="1.65" fill="#b93289"/><circle cx="177.3" cy="264.8" r="1.65" fill="#c13b82"/><circle cx="188.7" cy="266.5" r="1.65" fill="#49039f"/><circle cx="186.8" cy="267.8" r="1.65" fill="#8d0ca4"/><circle cx="211.0" cy="264.1" r="1.65" fill="#e97457"/><circle cx="204.7" cy="268.5" r="1.65" fill="#f58e45"/><circle cx="209.4" cy="260.8" r="1.65" fill="#d95a6a"/><circle cx="217.8" cy="260.9" r="1.65" fill="#f69043"/><circle cx="220.1" cy="266.1" r="1.65" fill="#e76f5a"/><circle cx="226.3" cy="265.6" r="1.65" fill="#f1824c"/><circle cx="230.0" cy="260.1" r="1.65" fill="#f3864a"/><circle cx="230.8" cy="253.5" r="1.65" fill="#d45270"/><circle cx="212.9" cy="266.5" r="1.65" fill="#bb3587"/><circle cx="218.4" cy="264.3" r="1.65" fill="#d14d73"/><circle cx="221.1" cy="260.7" r="1.65" fill="#6001a5"/><circle cx="190.5" cy="260.8" r="1.65" fill="#9311a1"/><circle cx="191.4" cy="273.3" r="1.65" fill="#e3685f"/><circle cx="199.7" cy="263.8" r="1.65" fill="#e26661"/><circle cx="200.0" cy="269.6" r="1.65" fill="#d45270"/><circle cx="208.3" cy="263.1" r="1.65" fill="#d7566d"/><circle cx="213.3" cy="263.4" r="1.65" fill="#c7427c"/><circle cx="216.1" cy="262.7" r="1.65" fill="#d5536f"/><circle cx="227.3" cy="257.4" r="1.65" fill="#e87159"/><circle cx="230.8" cy="261.3" r="1.65" fill="#ef7f4f"/><circle cx="238.9" cy="260.3" r="1.65" fill="#e66e5b"/><circle cx="164.2" cy="272.8" r="1.65" fill="#d04d74"/><circle cx="165.8" cy="267.3" r="1.65" fill="#c8427c"/><circle cx="179.1" cy="256.5" r="1.65" fill="#a62097"/><circle cx="167.9" cy="267.9" r="1.65" fill="#bb3587"/><circle cx="153.4" cy="268.4" r="1.65" fill="#db5c68"/><circle cx="224.0" cy="267.0" r="1.65" fill="#fca935"/><circle cx="234.3" cy="252.4" r="1.65" fill="#c8437c"/><circle cx="241.2" cy="254.3" r="1.65" fill="#e3685f"/><circle cx="203.6" cy="267.3" r="1.65" fill="#e46a5d"/><circle cx="197.4" cy="264.4" r="1.65" fill="#ce4a76"/><circle cx="65.6" cy="273.5" r="1.65" fill="#a31e98"/><circle cx="83.1" cy="275.6" r="1.65" fill="#ae2792"/><circle cx="88.8" cy="273.4" r="1.65" fill="#d35171"/><circle cx="92.6" cy="274.8" r="1.65" fill="#8108a6"/><circle cx="99.5" cy="268.5" r="1.65" fill="#a41f98"/><circle cx="113.5" cy="267.5" r="1.65" fill="#a01c9a"/><circle cx="116.4" cy="279.0" r="1.65" fill="#a82295"/><circle cx="108.0" cy="280.2" r="1.65" fill="#bf3983"/><circle cx="113.3" cy="270.6" r="1.65" fill="#b52e8d"/><circle cx="106.2" cy="269.3" r="1.65" fill="#8209a5"/><circle cx="124.3" cy="269.8" r="1.65" fill="#9f1b9a"/><circle cx="141.9" cy="272.2" r="1.65" fill="#ca447a"/><circle cx="144.5" cy="260.0" r="1.65" fill="#ad2792"/><circle cx="77.3" cy="271.2" r="1.65" fill="#b32c8e"/><circle cx="59.5" cy="274.8" r="1.65" fill="#7504a7"/><circle cx="62.2" cy="281.1" r="1.65" fill="#c43e7f"/><circle cx="64.0" cy="286.1" r="1.65" fill="#e26561"/><circle cx="67.2" cy="279.4" r="1.65" fill="#860aa5"/><circle cx="71.2" cy="279.4" r="1.65" fill="#ce4a76"/><circle cx="72.3" cy="276.2" r="1.65" fill="#c23c81"/><circle cx="75.8" cy="275.4" r="1.65" fill="#7f07a6"/><circle cx="78.9" cy="284.5" r="1.65" fill="#e06363"/><circle cx="81.1" cy="282.6" r="1.65" fill="#db5c68"/><circle cx="80.6" cy="271.8" r="1.65" fill="#b12a90"/><circle cx="86.3" cy="274.6" r="1.65" fill="#c03a82"/><circle cx="76.3" cy="277.8" r="1.65" fill="#5a02a4"/><circle cx="91.7" cy="271.9" r="1.65" fill="#cf4b75"/><circle cx="89.7" cy="276.3" r="1.65" fill="#5e01a5"/><circle cx="94.5" cy="273.5" r="1.65" fill="#9613a0"/><circle cx="92.6" cy="276.1" r="1.65" fill="#b8328a"/><circle cx="96.5" cy="265.9" r="1.65" fill="#9c189d"/><circle cx="101.8" cy="268.8" r="1.65" fill="#5f01a5"/><circle cx="103.5" cy="271.6" r="1.65" fill="#8f0da4"/><circle cx="112.0" cy="274.4" r="1.65" fill="#c03a83"/><circle cx="113.2" cy="272.1" r="1.65" fill="#c23c81"/><circle cx="138.5" cy="273.9" r="1.65" fill="#bb3487"/><circle cx="64.6" cy="275.8" r="1.65" fill="#c8437b"/><circle cx="71.3" cy="275.5" r="1.65" fill="#e16462"/><circle cx="88.2" cy="275.1" r="1.65" fill="#e46a5e"/><circle cx="86.6" cy="279.0" r="1.65" fill="#c33d80"/><circle cx="104.3" cy="274.6" r="1.65" fill="#5f01a5"/><circle cx="97.8" cy="272.7" r="1.65" fill="#6201a6"/><circle cx="110.4" cy="268.0" r="1.65" fill="#97149f"/><circle cx="113.9" cy="270.3" r="1.65" fill="#7c06a6"/><circle cx="110.5" cy="274.8" r="1.65" fill="#bc3686"/><circle cx="131.5" cy="278.0" r="1.65" fill="#e06264"/><circle cx="134.1" cy="269.3" r="1.65" fill="#97149f"/><circle cx="71.7" cy="268.4" r="1.65" fill="#99159e"/><circle cx="77.1" cy="268.2" r="1.65" fill="#7f07a6"/><circle cx="78.8" cy="275.8" r="1.65" fill="#bc3686"/><circle cx="66.6" cy="283.2" r="1.65" fill="#dc5d67"/><circle cx="71.1" cy="272.0" r="1.65" fill="#8b0ca4"/><circle cx="87.9" cy="276.8" r="1.65" fill="#97149f"/><circle cx="85.3" cy="274.2" r="1.65" fill="#ad2693"/><circle cx="93.9" cy="277.1" r="1.65" fill="#c6417d"/><circle cx="77.3" cy="275.1" r="1.65" fill="#6d01a8"/><circle cx="81.5" cy="269.1" r="1.65" fill="#a52097"/><circle cx="118.0" cy="270.6" r="1.65" fill="#ac2693"/><circle cx="137.8" cy="269.5" r="1.65" fill="#b22b8f"/><circle cx="65.2" cy="280.1" r="1.65" fill="#c6407e"/><circle cx="61.6" cy="275.8" r="1.65" fill="#9f1b9b"/><circle cx="73.0" cy="274.2" r="1.65" fill="#b22c8f"/><circle cx="94.3" cy="283.1" r="1.65" fill="#6e02a8"/><circle cx="105.5" cy="277.4" r="1.65" fill="#bf3983"/><circle cx="68.6" cy="279.4" r="1.65" fill="#ba3388"/><circle cx="175.5" cy="256.9" r="1.65" fill="#a31e98"/><circle cx="180.3" cy="257.1" r="1.65" fill="#b02990"/><circle cx="185.5" cy="268.6" r="1.65" fill="#49039f"/><circle cx="197.0" cy="260.5" r="1.65" fill="#d24f72"/><circle cx="203.8" cy="259.9" r="1.65" fill="#8409a5"/><circle cx="221.3" cy="267.9" r="1.65" fill="#fca736"/><circle cx="225.0" cy="259.9" r="1.65" fill="#ef7e4f"/><circle cx="229.5" cy="257.2" r="1.65" fill="#d9596a"/><circle cx="234.2" cy="261.7" r="1.65" fill="#ee7d50"/><circle cx="238.6" cy="262.3" r="1.65" fill="#fcca27"/><circle cx="242.2" cy="252.2" r="1.65" fill="#f58e45"/><circle cx="172.3" cy="268.4" r="1.65" fill="#b12a90"/><circle cx="176.7" cy="259.7" r="1.65" fill="#8309a5"/><circle cx="180.1" cy="265.5" r="1.65" fill="#ae2792"/><circle cx="179.1" cy="267.4" r="1.65" fill="#cc4778"/><circle cx="189.6" cy="262.5" r="1.65" fill="#e56b5d"/><circle cx="224.7" cy="259.0" r="1.65" fill="#d6556d"/><circle cx="231.0" cy="261.5" r="1.65" fill="#f1814d"/><circle cx="228.7" cy="257.7" r="1.65" fill="#e16561"/><circle cx="239.0" cy="257.4" r="1.65" fill="#ea7456"/><circle cx="242.2" cy="262.2" r="1.65" fill="#fcc22a"/><circle cx="242.2" cy="251.6" r="1.65" fill="#d04d73"/><circle cx="161.0" cy="263.8" r="1.65" fill="#c43f7f"/><circle cx="158.8" cy="266.8" r="1.65" fill="#c8437c"/><circle cx="168.7" cy="269.9" r="1.65" fill="#db5b69"/><circle cx="173.8" cy="266.7" r="1.65" fill="#d6546e"/><circle cx="150.8" cy="259.4" r="1.65" fill="#ba3488"/><circle cx="157.7" cy="268.7" r="1.65" fill="#c8427c"/><circle cx="164.0" cy="261.8" r="1.65" fill="#6900a8"/><circle cx="173.4" cy="269.7" r="1.65" fill="#ad2693"/><circle cx="149.5" cy="270.4" r="1.65" fill="#d04c74"/><circle cx="188.7" cy="270.5" r="1.65" fill="#d5546e"/><circle cx="194.2" cy="259.1" r="1.65" fill="#860aa5"/><circle cx="197.8" cy="268.7" r="1.65" fill="#d7566d"/><circle cx="191.3" cy="264.2" r="1.65" fill="#e76f5a"/><circle cx="215.8" cy="266.2" r="1.65" fill="#f07f4e"/><circle cx="208.6" cy="263.4" r="1.65" fill="#6201a6"/><circle cx="213.8" cy="267.6" r="1.65" fill="#e56c5c"/><circle cx="220.4" cy="261.6" r="1.65" fill="#ed7a52"/><circle cx="204.4" cy="262.7" r="1.65" fill="#dc5d67"/><circle cx="209.5" cy="259.7" r="1.65" fill="#dc5e67"/><circle cx="217.0" cy="261.9" r="1.65" fill="#e56b5d"/><circle cx="221.1" cy="260.2" r="1.65" fill="#d7576c"/><circle cx="212.5" cy="259.4" r="1.65" fill="#d8576c"/><circle cx="208.6" cy="263.8" r="1.65" fill="#d5536f"/><circle cx="224.2" cy="258.2" r="1.65" fill="#f99b3d"/><circle cx="215.1" cy="262.6" r="1.65" fill="#ef7e50"/><circle cx="230.2" cy="262.8" r="1.65" fill="#f48c46"/><circle cx="233.4" cy="261.4" r="1.65" fill="#ed7a52"/><circle cx="232.4" cy="265.0" r="1.65" fill="#e3695f"/><circle cx="228.4" cy="264.2" r="1.65" fill="#fccf25"/><circle cx="234.2" cy="257.4" r="1.65" fill="#ed7a52"/><circle cx="234.7" cy="259.2" r="1.65" fill="#f38849"/><circle cx="240.4" cy="266.7" r="1.65" fill="#fcc529"/><circle cx="242.6" cy="261.0" r="1.65" fill="#e46a5d"/><circle cx="243.6" cy="255.2" r="1.65" fill="#e97258"/><circle cx="168.7" cy="267.9" r="1.65" fill="#d7566d"/><circle cx="172.5" cy="260.0" r="1.65" fill="#c7427c"/><circle cx="176.2" cy="267.2" r="1.65" fill="#ce4a76"/><circle cx="183.7" cy="264.9" r="1.65" fill="#9f1a9b"/><circle cx="182.2" cy="270.6" r="1.65" fill="#d45170"/><circle cx="192.3" cy="262.9" r="1.65" fill="#8409a5"/><circle cx="196.8" cy="257.4" r="1.65" fill="#5c01a4"/><circle cx="204.7" cy="271.9" r="1.65" fill="#e4695e"/><circle cx="207.8" cy="258.4" r="1.65" fill="#da5a69"/><circle cx="211.0" cy="264.4" r="1.65" fill="#ca457a"/><circle cx="218.4" cy="258.8" r="1.65" fill="#d35071"/><circle cx="229.1" cy="260.8" r="1.65" fill="#e26760"/><circle cx="228.9" cy="260.5" r="1.65" fill="#7504a7"/><circle cx="235.7" cy="268.0" r="1.65" fill="#f48c46"/><circle cx="242.2" cy="260.7" r="1.65" fill="#f3864a"/><circle cx="253.6" cy="259.4" r="1.65" fill="#e3685f"/><circle cx="249.7" cy="256.1" r="1.65" fill="#f0814d"/><circle cx="246.3" cy="261.1" r="1.65" fill="#d35170"/><circle cx="249.0" cy="266.5" r="1.65" fill="#fccc26"/><circle cx="257.9" cy="259.9" r="1.65" fill="#ec7854"/><circle cx="261.5" cy="259.8" r="1.65" fill="#f89a3e"/><circle cx="267.0" cy="256.0" r="1.65" fill="#ea7556"/><circle cx="261.6" cy="264.5" r="1.65" fill="#f99b3d"/><circle cx="256.3" cy="262.3" r="1.65" fill="#e66e5b"/><circle cx="253.9" cy="264.1" r="1.65" fill="#fba437"/><circle cx="259.6" cy="264.7" r="1.65" fill="#e66e5b"/><circle cx="264.3" cy="258.9" r="1.65" fill="#f79540"/><circle cx="268.8" cy="264.2" r="1.65" fill="#f8993e"/><circle cx="263.3" cy="253.9" r="1.65" fill="#f99b3d"/><circle cx="265.0" cy="258.9" r="1.65" fill="#fcb82e"/><circle cx="254.6" cy="264.6" r="1.65" fill="#fcab34"/><circle cx="247.5" cy="261.9" r="1.65" fill="#f89a3e"/><circle cx="246.8" cy="262.1" r="1.65" fill="#f79541"/><circle cx="266.1" cy="257.7" r="1.65" fill="#eb7854"/><circle cx="254.4" cy="257.6" r="1.65" fill="#f99d3b"/><circle cx="257.8" cy="259.1" r="1.65" fill="#f79541"/><circle cx="245.7" cy="259.9" r="1.65" fill="#eb7655"/><circle cx="71.1" cy="272.2" r="1.65" fill="#ba3388"/><circle cx="75.5" cy="279.3" r="1.65" fill="#d8576c"/><circle cx="73.4" cy="272.5" r="1.65" fill="#d7566c"/><circle cx="77.5" cy="273.1" r="1.65" fill="#bf3984"/><circle cx="88.1" cy="272.9" r="1.65" fill="#bb3587"/><circle cx="111.4" cy="281.4" r="1.65" fill="#d14e73"/><circle cx="111.1" cy="265.2" r="1.65" fill="#b8328a"/><circle cx="122.4" cy="276.5" r="1.65" fill="#d45270"/><circle cx="136.8" cy="274.8" r="1.65" fill="#dd5e66"/><circle cx="143.8" cy="271.2" r="1.65" fill="#d5536f"/><circle cx="90.4" cy="278.3" r="1.65" fill="#cf4c74"/><circle cx="100.2" cy="274.2" r="1.65" fill="#c23d80"/><circle cx="104.1" cy="271.7" r="1.65" fill="#b32c8e"/><circle cx="129.9" cy="275.3" r="1.65" fill="#c23d81"/><circle cx="97.8" cy="274.4" r="1.65" fill="#a92395"/><circle cx="98.6" cy="274.9" r="1.65" fill="#ae2892"/><circle cx="119.6" cy="267.4" r="1.65" fill="#a62097"/><circle cx="117.3" cy="270.4" r="1.65" fill="#7604a7"/><circle cx="134.2" cy="277.8" r="1.65" fill="#df6164"/><circle cx="130.3" cy="264.8" r="1.65" fill="#a92395"/><circle cx="163.7" cy="263.4" r="1.65" fill="#ae2792"/><circle cx="162.2" cy="266.4" r="1.65" fill="#c33e80"/><circle cx="170.6" cy="267.0" r="1.65" fill="#e26661"/><circle cx="176.0" cy="267.8" r="1.65" fill="#de6065"/><circle cx="179.2" cy="263.9" r="1.65" fill="#ca457a"/><circle cx="195.5" cy="269.4" r="1.65" fill="#e66d5b"/><circle cx="202.2" cy="264.0" r="1.65" fill="#7203a7"/><circle cx="206.7" cy="264.8" r="1.65" fill="#dd5f66"/><circle cx="209.0" cy="261.7" r="1.65" fill="#ba3388"/><circle cx="217.0" cy="252.7" r="1.65" fill="#ce4a76"/><circle cx="215.1" cy="264.1" r="1.65" fill="#bf3984"/><circle cx="225.1" cy="261.0" r="1.65" fill="#dd5e66"/><circle cx="229.5" cy="261.3" r="1.65" fill="#e26660"/><circle cx="233.8" cy="260.8" r="1.65" fill="#f38848"/><circle cx="237.4" cy="262.1" r="1.65" fill="#f9d924"/><circle cx="242.9" cy="261.0" r="1.65" fill="#ec7953"/><circle cx="183.7" cy="268.8" r="1.65" fill="#e36760"/><circle cx="194.7" cy="267.5" r="1.65" fill="#ce4a76"/><circle cx="198.7" cy="272.5" r="1.65" fill="#fba338"/><circle cx="230.1" cy="261.3" r="1.65" fill="#df6164"/><circle cx="236.6" cy="255.4" r="1.65" fill="#f3864a"/><circle cx="243.8" cy="261.9" r="1.65" fill="#fad524"/><circle cx="213.4" cy="254.7" r="1.65" fill="#9e1a9b"/><circle cx="223.9" cy="260.9" r="1.65" fill="#5502a2"/><circle cx="226.3" cy="256.4" r="1.65" fill="#e4695e"/><circle cx="240.7" cy="260.1" r="1.65" fill="#faa139"/><circle cx="163.7" cy="270.8" r="1.65" fill="#cf4b75"/><circle cx="165.1" cy="267.8" r="1.65" fill="#dc5d67"/><circle cx="190.2" cy="261.2" r="1.65" fill="#b93388"/><circle cx="233.4" cy="260.1" r="1.65" fill="#f0804e"/><circle cx="248.5" cy="265.8" r="1.65" fill="#e97357"/><circle cx="254.2" cy="266.2" r="1.65" fill="#fa9e3b"/><circle cx="261.2" cy="256.3" r="1.65" fill="#f99c3c"/><circle cx="263.8" cy="265.5" r="1.65" fill="#f69143"/><circle cx="265.9" cy="260.3" r="1.65" fill="#f48a47"/><circle cx="279.2" cy="255.5" r="1.65" fill="#f48c46"/><circle cx="264.7" cy="259.5" r="1.65" fill="#f38749"/><circle cx="86.5" cy="277.0" r="1.65" fill="#b93289"/><circle cx="106.3" cy="266.9" r="1.65" fill="#a01b9a"/><circle cx="119.9" cy="270.2" r="1.65" fill="#8e0da4"/><circle cx="130.1" cy="270.4" r="1.65" fill="#c13c81"/><circle cx="140.3" cy="262.7" r="1.65" fill="#b7318b"/><circle cx="129.5" cy="272.9" r="1.65" fill="#6501a7"/><circle cx="136.7" cy="267.1" r="1.65" fill="#900ea3"/><circle cx="88.1" cy="270.5" r="1.65" fill="#9f1b9b"/><circle cx="101.7" cy="272.8" r="1.65" fill="#d04d73"/><circle cx="114.1" cy="272.6" r="1.65" fill="#b62f8c"/><circle cx="113.9" cy="271.7" r="1.65" fill="#7705a7"/><circle cx="140.4" cy="272.2" r="1.65" fill="#c03a83"/><circle cx="127.5" cy="266.3" r="1.65" fill="#9c189d"/><circle cx="153.3" cy="260.6" r="1.65" fill="#b52e8c"/><circle cx="236.7" cy="253.8" r="1.65" fill="#e76f5a"/><circle cx="179.4" cy="264.5" r="1.65" fill="#d35171"/><circle cx="180.2" cy="267.3" r="1.65" fill="#5202a2"/><circle cx="188.0" cy="263.4" r="1.65" fill="#4d03a0"/><circle cx="193.7" cy="259.9" r="1.65" fill="#b22b8f"/><circle cx="152.4" cy="265.0" r="1.65" fill="#b02991"/><circle cx="165.7" cy="268.0" r="1.65" fill="#c33d80"/><circle cx="221.7" cy="263.0" r="1.65" fill="#e46a5d"/><circle cx="216.1" cy="269.4" r="1.65" fill="#f38848"/><circle cx="222.7" cy="263.7" r="1.65" fill="#d6556d"/><circle cx="215.8" cy="267.3" r="1.65" fill="#f58f44"/><circle cx="216.3" cy="261.0" r="1.65" fill="#e16362"/><circle cx="67.8" cy="275.9" r="1.65" fill="#9d199c"/><circle cx="216.4" cy="271.5" r="1.65" fill="#f48b47"/><circle cx="215.8" cy="274.0" r="1.65" fill="#fcc628"/><circle cx="216.2" cy="276.5" r="1.65" fill="#f79540"/><circle cx="215.9" cy="279.0" r="1.65" fill="#f89a3d"/><circle cx="215.2" cy="281.5" r="1.65" fill="#fa9f3a"/><circle cx="88.3" cy="295.4" r="1.65" fill="#6a00a8"/><circle cx="279.4" cy="261.0" r="1.65" fill="#fcba2e"/></g>
<path d="M56.5 278.4L279.4 255.9" stroke="#000" stroke-width="1.5"/>
<text x="50" y="258.7" font-size="8.9" fill="#000" stroke="#000" stroke-width="0.2"><tspan font-style="italic">R</tspan><tspan font-size="6.2" dy="-3.9">2</tspan><tspan dy="3.9"> = 0.59</tspan></text>
<defs><linearGradient id="pl" x1="0" y1="1" x2="0" y2="0"><stop offset="0.0" stop-color="#0d0887"/><stop offset="0.1" stop-color="#41049d"/><stop offset="0.2" stop-color="#6a00a8"/><stop offset="0.3" stop-color="#8f0da4"/><stop offset="0.4" stop-color="#b12a90"/><stop offset="0.5" stop-color="#cc4778"/><stop offset="0.6" stop-color="#e16462"/><stop offset="0.7" stop-color="#f2844b"/><stop offset="0.8" stop-color="#fca636"/><stop offset="0.9" stop-color="#fcce25"/><stop offset="1.0" stop-color="#f0f921"/></linearGradient></defs>
<rect x="313.3" y="209.5" width="19.2" height="117.3" fill="url(#pl)"/>
<text x="337.50" y="311.70" font-size="8.8" text-anchor="start" fill="#000"  stroke="#000" stroke-width="0.22">20</text>
<text x="337.50" y="279.10" font-size="8.8" text-anchor="start" fill="#000"  stroke="#000" stroke-width="0.22">40</text>
<text x="337.50" y="246.50" font-size="8.8" text-anchor="start" fill="#000"  stroke="#000" stroke-width="0.22">60</text>
<text x="337.50" y="213.90" font-size="8.8" text-anchor="start" fill="#000"  stroke="#000" stroke-width="0.22">80</text>
<path d="M313.3 307.80H317.7M328.3 307.80H332.5M313.3 275.20H317.7M328.3 275.20H332.5M313.3 242.60H317.7M328.3 242.60H332.5" stroke="#fff" stroke-width="0.8" opacity="0.9"/>
<text transform="translate(307.5,266) rotate(-90)" font-size="8.5" text-anchor="middle" fill="#000" stroke="#000" stroke-width="0.22">% of reads assigned taxonomy</text>
<text x="-0.30" y="225.00" font-size="18.2" text-anchor="start" fill="#000" >C</text>
<path d="M439.2 296.10H685M439.2 287.50H685M439.2 278.90H685M439.2 270.30H685M439.2 261.70H685M439.2 253.10H685M439.2 244.50H685M439.2 235.90H685M439.2 227.30H685M439.2 218.70H685M439.2 210.10H685M439.2 201.50H685M439.2 192.90H685M439.2 184.30H685M448.40 178.2V298.3M467.23 178.2V298.3M486.07 178.2V298.3M504.90 178.2V298.3M523.74 178.2V298.3M542.57 178.2V298.3M561.40 178.2V298.3M580.24 178.2V298.3M599.07 178.2V298.3M617.91 178.2V298.3M636.74 178.2V298.3M655.57 178.2V298.3M674.41 178.2V298.3" stroke="#ebebeb" stroke-width="1" fill="none"/>
<text transform="translate(435.40,299.00) scale(1,1.06)" font-size="7.6" text-anchor="end" fill="#4d4d4d"  stroke="#4d4d4d" stroke-width="0.12">0.04</text>
<text transform="translate(435.40,290.40) scale(1,1.06)" font-size="7.6" text-anchor="end" fill="#4d4d4d"  stroke="#4d4d4d" stroke-width="0.12">0.05</text>
<text transform="translate(435.40,281.80) scale(1,1.06)" font-size="7.6" text-anchor="end" fill="#4d4d4d"  stroke="#4d4d4d" stroke-width="0.12">0.06</text>
<text transform="translate(435.40,273.20) scale(1,1.06)" font-size="7.6" text-anchor="end" fill="#4d4d4d"  stroke="#4d4d4d" stroke-width="0.12">0.07</text>
<text transform="translate(435.40,264.60) scale(1,1.06)" font-size="7.6" text-anchor="end" fill="#4d4d4d"  stroke="#4d4d4d" stroke-width="0.12">0.08</text>
<text transform="translate(435.40,256.00) scale(1,1.06)" font-size="7.6" text-anchor="end" fill="#4d4d4d"  stroke="#4d4d4d" stroke-width="0.12">0.09</text>
<text transform="translate(435.40,247.40) scale(1,1.06)" font-size="7.6" text-anchor="end" fill="#4d4d4d"  stroke="#4d4d4d" stroke-width="0.12">0.10</text>
<text transform="translate(435.40,238.80) scale(1,1.06)" font-size="7.6" text-anchor="end" fill="#4d4d4d"  stroke="#4d4d4d" stroke-width="0.12">0.11</text>
<text transform="translate(435.40,230.20) scale(1,1.06)" font-size="7.6" text-anchor="end" fill="#4d4d4d"  stroke="#4d4d4d" stroke-width="0.12">0.12</text>
<text transform="translate(435.40,221.60) scale(1,1.06)" font-size="7.6" text-anchor="end" fill="#4d4d4d"  stroke="#4d4d4d" stroke-width="0.12">0.13</text>
<text transform="translate(435.40,213.00) scale(1,1.06)" font-size="7.6" text-anchor="end" fill="#4d4d4d"  stroke="#4d4d4d" stroke-width="0.12">0.14</text>
<text transform="translate(435.40,204.40) scale(1,1.06)" font-size="7.6" text-anchor="end" fill="#4d4d4d"  stroke="#4d4d4d" stroke-width="0.12">0.15</text>
<text transform="translate(435.40,195.80) scale(1,1.06)" font-size="7.6" text-anchor="end" fill="#4d4d4d"  stroke="#4d4d4d" stroke-width="0.12">0.16</text>
<text transform="translate(435.40,187.20) scale(1,1.06)" font-size="7.6" text-anchor="end" fill="#4d4d4d"  stroke="#4d4d4d" stroke-width="0.12">0.17</text>
<text transform="translate(448.40,308.10) scale(1,1.08)" font-size="8.2" text-anchor="middle" fill="#4d4d4d"  stroke="#4d4d4d" stroke-width="0.12">0</text>
<text transform="translate(467.23,308.10) scale(1,1.08)" font-size="8.2" text-anchor="middle" fill="#4d4d4d"  stroke="#4d4d4d" stroke-width="0.12">20</text>
<text transform="translate(486.07,308.10) scale(1,1.08)" font-size="8.2" text-anchor="middle" fill="#4d4d4d"  stroke="#4d4d4d" stroke-width="0.12">40</text>
<text transform="translate(504.90,308.10) scale(1,1.08)" font-size="8.2" text-anchor="middle" fill="#4d4d4d"  stroke="#4d4d4d" stroke-width="0.12">60</text>
<text transform="translate(523.74,308.10) scale(1,1.08)" font-size="8.2" text-anchor="middle" fill="#4d4d4d"  stroke="#4d4d4d" stroke-width="0.12">80</text>
<text transform="translate(542.57,308.10) scale(1,1.08)" font-size="8.2" text-anchor="middle" fill="#4d4d4d"  stroke="#4d4d4d" stroke-width="0.12">100</text>
<text transform="translate(561.40,308.10) scale(1,1.08)" font-size="8.2" text-anchor="middle" fill="#4d4d4d"  stroke="#4d4d4d" stroke-width="0.12">120</text>
<text transform="translate(580.24,308.10) scale(1,1.08)" font-size="8.2" text-anchor="middle" fill="#4d4d4d"  stroke="#4d4d4d" stroke-width="0.12">140</text>
<text transform="translate(599.07,308.10) scale(1,1.08)" font-size="8.2" text-anchor="middle" fill="#4d4d4d"  stroke="#4d4d4d" stroke-width="0.12">160</text>
<text transform="translate(617.91,308.10) scale(1,1.08)" font-size="8.2" text-anchor="middle" fill="#4d4d4d"  stroke="#4d4d4d" stroke-width="0.12">180</text>
<text transform="translate(636.74,308.10) scale(1,1.08)" font-size="8.2" text-anchor="middle" fill="#4d4d4d"  stroke="#4d4d4d" stroke-width="0.12">200</text>
<text transform="translate(655.57,308.10) scale(1,1.08)" font-size="8.2" text-anchor="middle" fill="#4d4d4d"  stroke="#4d4d4d" stroke-width="0.12">220</text>
<text transform="translate(674.41,308.10) scale(1,1.08)" font-size="8.2" text-anchor="middle" fill="#4d4d4d"  stroke="#4d4d4d" stroke-width="0.12">240</text>
<text x="562.30" y="318.30" font-size="8.5" text-anchor="middle" fill="#000"  stroke="#000" stroke-width="0.22">No. samples</text>
<text transform="translate(415.2,237.8) rotate(-90)" font-size="8" text-anchor="middle" fill="#000" stroke="#000" stroke-width="0.22">FAVA</text>
<circle cx="450.4" cy="183.7" r="3.75" fill="#f68a5f" stroke="#222" stroke-width="0.7"/>
<circle cx="450.3" cy="292.4" r="3.75" fill="#22c1a6" stroke="#222" stroke-width="0.7"/>
<circle cx="469.2" cy="265.6" r="3.75" fill="#d077ab" stroke="#222" stroke-width="0.7"/>
<circle cx="465.3" cy="270.1" r="3.75" fill="#86c53e" stroke="#222" stroke-width="0.7"/>
<circle cx="516.3" cy="257.4" r="3.75" fill="#1889df" stroke="#222" stroke-width="0.7"/>
<circle cx="673.9" cy="281.4" r="3.75" fill="#7574bc" stroke="#222" stroke-width="0.7"/>
<path d="M439.1 271.1H685" stroke="#333" stroke-width="1.7" stroke-dasharray="1.8 4.26"/>
<rect x="632.7" y="184.5" width="50.4" height="61.7" fill="#fff" stroke="#555" stroke-width="0.9"/>
<text x="636.90" y="192.60" font-size="6.7" text-anchor="start" fill="#000"  stroke="#000" stroke-width="0.22">Continent</text>
<circle cx="640.3" cy="198.90" r="3.1" fill="#d077ab" stroke="#333" stroke-width="0.5"/>
<text x="646.00" y="200.80" font-size="5.3" text-anchor="start" fill="#000"  stroke="#000" stroke-width="0.22">Africa</text>
<circle cx="640.3" cy="207.35" r="3.1" fill="#86c53e" stroke="#333" stroke-width="0.5"/>
<text x="646.00" y="209.25" font-size="5.3" text-anchor="start" fill="#000"  stroke="#000" stroke-width="0.22">Asia</text>
<circle cx="640.3" cy="215.80" r="3.1" fill="#f68a5f" stroke="#333" stroke-width="0.5"/>
<text x="646.00" y="217.70" font-size="5.3" text-anchor="start" fill="#000"  stroke="#000" stroke-width="0.22">Caribbean</text>
<circle cx="640.3" cy="224.25" r="3.1" fill="#7574bc" stroke="#333" stroke-width="0.5"/>
<text x="646.00" y="226.15" font-size="5.3" text-anchor="start" fill="#000"  stroke="#000" stroke-width="0.22">Europe</text>
<circle cx="640.3" cy="232.70" r="3.1" fill="#22c1a6" stroke="#333" stroke-width="0.5"/>
<text x="646.00" y="234.60" font-size="5.3" text-anchor="start" fill="#000"  stroke="#000" stroke-width="0.22">North America</text>
<circle cx="640.3" cy="241.15" r="3.1" fill="#1889df" stroke="#333" stroke-width="0.5"/>
<text x="646.00" y="243.05" font-size="5.3" text-anchor="start" fill="#000"  stroke="#000" stroke-width="0.22">Pacific</text>
<text x="393.00" y="193.00" font-size="17.5" text-anchor="start" fill="#000" >D</text>
</svg>
</body></html>
